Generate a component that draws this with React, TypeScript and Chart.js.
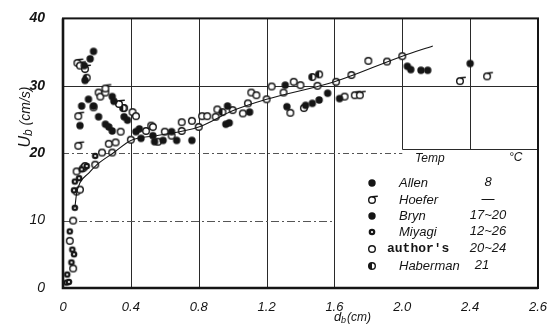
import React, { useEffect, useRef } from "react";
import { Chart, registerables } from "chart.js";
Chart.register(...registerables);

const xTickLabels = ["0", "0.4", "0.8", "1.2", "1.6", "2.0", "2.4", "2.6"];
const yTickLabels = ["0", "10", "20", "30", "40"];

const allenD = [0.125, 0.13, 0.16, 0.18, 2.03, 2.05, 2.11, 2.15, 2.40];
const allenU = [33.0, 30.8, 34.0, 35.1, 32.9, 32.4, 32.3, 32.3, 33.3];

const hoeferD = [0.085, 0.10, 0.13, 0.09, 0.09, 0.25, 0.33, 1.72, 1.75, 2.34, 2.50];
const hoeferU = [33.4, 33.0, 32.5, 25.5, 21.1, 29.6, 27.3, 28.6, 28.6, 30.7, 31.4];

const brynD = [0.11, 0.15, 0.10, 0.18, 0.21, 0.25, 0.27, 0.29, 0.29, 0.30, 0.36, 0.38, 0.43, 0.45, 0.46, 0.53, 0.54, 0.59, 0.64, 0.67, 0.76, 0.96, 0.98, 0.97, 1.10, 1.31, 1.32, 1.43, 1.47, 1.51, 1.56, 1.63];
const brynU = [27.0, 28.0, 24.1, 27.0, 25.4, 24.3, 23.9, 23.3, 28.4, 27.7, 25.4, 24.9, 23.2, 23.6, 22.2, 22.6, 21.7, 21.9, 23.2, 21.9, 21.9, 24.3, 24.5, 27.0, 26.1, 30.1, 26.9, 27.1, 27.4, 27.9, 28.9, 28.1];

const miyagiD = [0.025, 0.02, 0.035, 0.05, 0.065, 0.055, 0.04, 0.07, 0.065, 0.095, 0.14, 0.11, 0.07, 0.19];
const miyagiU = [2.0, 0.8, 0.9, 3.8, 5.0, 5.7, 8.4, 11.9, 14.5, 16.3, 18.1, 17.6, 15.8, 19.6];

const authorD = [0.06, 0.04, 0.06, 0.08, 0.12, 0.08, 0.10, 0.13, 0.19, 0.23, 0.29, 0.27, 0.31, 0.40, 0.21, 0.22, 0.25, 0.36, 0.41, 0.43, 0.49, 0.52, 0.53, 0.56, 0.60, 0.64, 0.70, 0.70, 0.76, 0.80, 0.82, 0.85, 0.90, 0.91, 1.00, 1.06, 1.09, 1.11, 1.14, 1.20, 1.23, 1.30, 1.36, 1.40, 1.50, 1.61, 1.70, 1.80, 1.91, 2.00, 1.34, 1.42, 1.66, 0.34, 0.18];
const authorU = [2.9, 7.0, 10.0, 17.3, 17.8, 14.3, 14.6, 18.1, 18.3, 20.1, 20.1, 21.4, 21.6, 22.0, 29.0, 28.4, 29.0, 26.7, 26.1, 25.5, 23.3, 24.1, 23.9, 21.7, 23.2, 22.6, 23.3, 24.6, 24.8, 23.9, 25.5, 25.5, 25.4, 26.5, 26.4, 25.9, 27.4, 29.0, 28.6, 28.0, 29.9, 29.0, 30.6, 30.1, 30.0, 30.6, 31.6, 33.7, 33.6, 34.4, 26.0, 26.7, 28.4, 23.2, 26.8];

const habermanD = [0.94, 1.47, 1.51, 0.355, 0.14];
const habermanU = [26.1, 31.3, 31.7, 26.7, 31.2];

const fitD = [0.07, 0.08, 0.10, 0.15, 0.20, 0.30, 0.40, 0.55, 0.80, 1.00, 1.20, 1.60, 2.00, 2.18];
const fitU = [11.9, 14.0, 15.6, 17.0, 18.3, 20.1, 21.9, 22.6, 23.9, 26.3, 28.0, 30.6, 34.4, 35.9];

const legendNames = ["Allen", "Hoefer", "Bryn", "Miyagi", "author's", "Haberman"];
const legendTemps = ["8", "—", "17~20", "12~26", "20~24", "21"];
const legendKinds = ["filled", "hoefer", "filled", "miyagi", "open", "haberman"];

const FONT = "'Liberation Sans', Arial, sans-serif";
const INK = "#151515";

function pts(d: number[], u: number[]) {
  return d.map((x, i) => ({ x, y: u[i] }));
}

function makeMarker(kind: string): HTMLCanvasElement {
  const c = document.createElement("canvas");
  c.width = 14;
  c.height = 14;
  const g = c.getContext("2d")!;
  const cx = 7, cy = 7, r = 3.3;
  g.lineWidth = 1.4;
  g.strokeStyle = INK;
  g.fillStyle = INK;
  g.beginPath();
  g.arc(cx, cy, r, 0, Math.PI * 2);
  if (kind === "filled") {
    g.arc(cx, cy, r + 0.4, 0, Math.PI * 2);
    g.fill();
  } else if (kind === "open") {
    g.fillStyle = "#fff";
    g.fill();
    g.stroke();
  } else if (kind === "hoefer") {
    g.fillStyle = "#fff";
    g.fill();
    g.stroke();
    g.beginPath();
    g.moveTo(cx, cy - r);
    g.lineTo(cx + r + 2.5, cy - r - 0.5);
    g.stroke();
  } else if (kind === "miyagi") {
    g.fill();
    g.fillStyle = "#fff";
    g.beginPath();
    g.arc(cx, cy, 1.1, 0, Math.PI * 2);
    g.fill();
  } else if (kind === "haberman") {
    g.fillStyle = "#fff";
    g.fill();
    g.stroke();
    g.fillStyle = INK;
    g.beginPath();
    g.arc(cx, cy, r, Math.PI / 2, (Math.PI * 3) / 2);
    g.closePath();
    g.fill();
  }
  return c;
}

export default function App() {
  const ref = useRef<HTMLCanvasElement | null>(null);

  useEffect(() => {
    if (!ref.current) return;
    const markers: Record<string, HTMLCanvasElement> = {};
    ["filled", "open", "hoefer", "miyagi", "haberman"].forEach((k) => (markers[k] = makeMarker(k)));

    const scatterSet = (label: string, d: number[], u: number[], kind: string) => ({
      label,
      data: pts(d, u),
      pointStyle: markers[kind] as any,
      showLine: false,
      pointRadius: 4,
    });

    const decor = {
      id: "decor",
      beforeDatasetsDraw(chart: any) {
        const { ctx, scales } = chart;
        const xs = scales.x, ys = scales.y;
        ctx.save();
        ctx.strokeStyle = "#2a2a2a";
        ctx.lineWidth = 1;
        const vline = (v: number, u0: number, u1: number) => {
          const px = Math.round(xs.getPixelForValue(v)) + 0.5;
          ctx.beginPath();
          ctx.moveTo(px, ys.getPixelForValue(u0));
          ctx.lineTo(px, ys.getPixelForValue(u1));
          ctx.stroke();
        };
        const hline = (u: number, d0: number, d1: number, dash: number[], color: string) => {
          const py = Math.round(ys.getPixelForValue(u)) + 0.5;
          ctx.strokeStyle = color;
          ctx.setLineDash(dash);
          ctx.beginPath();
          ctx.moveTo(xs.getPixelForValue(d0), py);
          ctx.lineTo(xs.getPixelForValue(d1), py);
          ctx.stroke();
          ctx.setLineDash([]);
          ctx.strokeStyle = "#2a2a2a";
        };
        vline(0.4, 0, 40);
        vline(0.8, 0, 40);
        vline(1.2, 0, 40);
        vline(1.6, 0, 40);
        vline(2.0, 20.6, 40);
        vline(2.4, 20.6, 40);
        hline(30, 0, 2.8, [], "#2a2a2a");
        hline(20, 0, 2.0, [6, 3, 2, 3], "#555");
        hline(20.6, 2.0, 2.8, [], "#2a2a2a");
        hline(10, 0, 1.6, [8, 3, 2, 3], "#555");
        ctx.restore();
      },
      afterDatasetsDraw(chart: any) {
        const { ctx, chartArea: a } = chart;
        ctx.save();
        ctx.strokeStyle = INK;
        ctx.lineWidth = 2;
        ctx.strokeRect(a.left, a.top, a.right - a.left, a.bottom - a.top);
        ctx.lineWidth = 2.6;
        ctx.beginPath();
        ctx.moveTo(a.left, a.top);
        ctx.lineTo(a.left, a.bottom);
        ctx.lineTo(a.right, a.bottom);
        ctx.stroke();

        // legend
        ctx.fillStyle = INK;
        ctx.textBaseline = "middle";
        ctx.font = `italic 12px ${FONT}`;
        ctx.textAlign = "left";
        ctx.fillText("Temp", 415, 159);
        ctx.fillText("°C", 509, 158);
        const rowY = [183, 200, 216, 232, 249, 266];
        legendNames.forEach((name, i) => {
          const y = rowY[i];
          const m = markers[legendKinds[i]];
          ctx.drawImage(m, 372 - m.width / 2, y - m.height / 2);
          ctx.textAlign = "left";
          if (name === "author's") {
            ctx.font = `bold 13px 'Liberation Mono', 'DejaVu Sans Mono', monospace`;
            ctx.fillText(name, 387, y);
          } else {
            ctx.font = `italic 13px ${FONT}`;
            ctx.fillText(name, 399, y);
          }
          ctx.font = `italic 13px ${FONT}`;
          ctx.textAlign = "center";
          ctx.fillText(legendTemps[i], i === 5 ? 482 : 488, y - 1);
        });

        // x title
        ctx.textAlign = "left";
        ctx.textBaseline = "alphabetic";
        ctx.font = `italic 13px ${FONT}`;
        const w1 = ctx.measureText("d").width;
        ctx.font = `italic 9px ${FONT}`;
        const w2 = ctx.measureText("b").width;
        ctx.font = `italic 12px ${FONT}`;
        const w3 = ctx.measureText("(cm)").width;
        const sx = 352 - (w1 + w2 + w3) / 2;
        ctx.font = `italic 13px ${FONT}`;
        ctx.fillText("d", sx, 321);
        ctx.font = `italic 9px ${FONT}`;
        ctx.fillText("b", sx + w1, 323);
        ctx.font = `italic 12px ${FONT}`;
        ctx.fillText("(cm)", sx + w1 + w2 + 1, 321);

        // y title
        ctx.translate(24, 117);
        ctx.rotate(-Math.PI / 2);
        ctx.font = `italic 16px ${FONT}`;
        const u1 = ctx.measureText("U").width;
        ctx.font = `italic 12px ${FONT}`;
        const u2 = ctx.measureText("b").width;
        ctx.font = `italic 14px ${FONT}`;
        const u3 = ctx.measureText(" (cm/s)").width;
        const sy = -(u1 + u2 + u3) / 2;
        ctx.font = `italic 16px ${FONT}`;
        ctx.fillText("U", sy, 6);
        ctx.font = `italic 12px ${FONT}`;
        ctx.fillText("b", sy + u1, 8);
        ctx.font = `italic 14px ${FONT}`;
        ctx.fillText(" (cm/s)", sy + u1 + u2, 6);
        ctx.restore();
      },
    };

    const chart = new Chart(ref.current, {
      type: "scatter",
      data: {
        datasets: [
          {
            label: "fit",
            data: pts(fitD, fitU),
            showLine: true,
            pointRadius: 0,
            borderColor: INK,
            borderWidth: 1.1,
            cubicInterpolationMode: "monotone",
          } as any,
          scatterSet("Bryn", brynD, brynU, "filled"),
          scatterSet("Allen", allenD, allenU, "filled"),
          scatterSet("Miyagi", miyagiD, miyagiU, "miyagi"),
          scatterSet("Hoefer", hoeferD, hoeferU, "hoefer"),
          scatterSet("Haberman", habermanD, habermanU, "haberman"),
          scatterSet("author's", authorD, authorU, "open"),
        ],
      },
      options: {
        animation: false,
        responsive: false,
        maintainAspectRatio: false,
        layout: { padding: { top: 15, right: 21, left: 0, bottom: 0 } },
        plugins: { legend: { display: false }, tooltip: { enabled: false } },
        scales: {
          x: {
            type: "linear",
            min: 0,
            max: 2.8,
            grid: { display: false },
            border: { display: false },
            ticks: {
              stepSize: 0.4,
              autoSkip: false,
              maxRotation: 0,
              padding: 4,
              color: INK,
              font: { family: FONT, style: "italic", size: 13 },
              callback: (_v: any, i: number) => xTickLabels[i] ?? "",
            },
            afterFit: (s: any) => {
              s.height = 40;
            },
          },
          y: {
            type: "linear",
            min: 0,
            max: 40,
            grid: { display: false },
            border: { display: false },
            ticks: {
              stepSize: 10,
              padding: 10,
              color: INK,
              font: (c: any) => ({
                family: FONT,
                style: "italic",
                size: 14,
                weight: c.tick && c.tick.value >= 20 ? "bold" : "normal",
              }),
              callback: (_v: any, i: number) => yTickLabels[i] ?? "",
            },
            afterFit: (s: any) => {
              s.width = 63;
            },
          },
        },
      },
      plugins: [decor],
    } as any);

    return () => chart.destroy();
  }, []);

  return (
    <div style={{ position: "absolute", left: 0, top: 0, width: 559, height: 328, background: "#fff" }}>
      <canvas ref={ref} width={559} height={328} style={{ display: "block" }} />
    </div>
  );
}
